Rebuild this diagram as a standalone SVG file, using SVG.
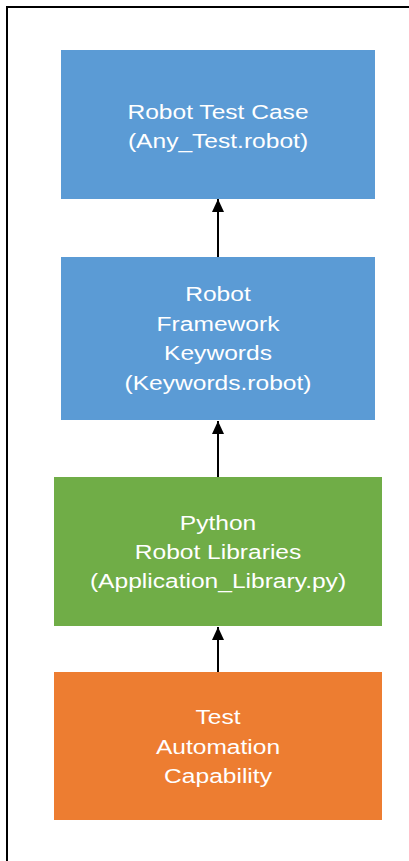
<svg xmlns="http://www.w3.org/2000/svg" width="409" height="861" viewBox="0 0 409 861">
<style>
.t{font-family:"Liberation Sans",Arial,sans-serif;font-size:21px;fill:#fff;text-anchor:middle}
.c{stroke:#000;stroke-width:2;fill:none}
</style>
<defs>
<marker id="ah" markerUnits="userSpaceOnUse" markerWidth="13" markerHeight="12" refX="13" refY="6" orient="auto" viewBox="0 0 13 12">
<path d="M0,0 L13,6 L0,12 Z" fill="#000"/>
</marker>
</defs>
<rect width="409" height="861" fill="#fff"/>
<path d="M7,861 V7 H409" fill="none" stroke="#000" stroke-width="2"/>
<g id="connectors">
<line class="c" x1="218" y1="257" x2="218" y2="199" marker-end="url(#ah)"/>
<line class="c" x1="218" y1="477" x2="218" y2="421" marker-end="url(#ah)"/>
<line class="c" x1="218" y1="672" x2="218" y2="627" marker-end="url(#ah)"/>
</g>
<g id="robot-test-case">
<rect x="61" y="50" width="314" height="149" fill="#5B9BD5"/>
<g transform="translate(218,0) scale(1.17,1)">
<text class="t" x="0" y="119">Robot Test Case</text>
<text class="t" x="0" y="148.5">(Any_Test.robot)</text>
</g>
</g>
<g id="robot-framework-keywords">
<rect x="61" y="257" width="314" height="163" fill="#5B9BD5"/>
<g transform="translate(218,0) scale(1.17,1)">
<text class="t" x="0" y="301.5">Robot</text>
<text class="t" x="0" y="331">Framework</text>
<text class="t" x="0" y="360.5">Keywords</text>
<text class="t" x="0" y="390">(Keywords.robot)</text>
</g>
</g>
<g id="python-robot-libraries">
<rect x="54" y="477" width="328" height="149" fill="#70AD47"/>
<g transform="translate(218,0) scale(1.17,1)">
<text class="t" x="0" y="530">Python</text>
<text class="t" x="0" y="559">Robot Libraries</text>
<text class="t" x="0" y="588">(Application_Library.py)</text>
</g>
</g>
<g id="test-automation-capability">
<rect x="54" y="672" width="328" height="148" fill="#ED7D31"/>
<g transform="translate(218,0) scale(1.17,1)">
<text class="t" x="0" y="724.5">Test</text>
<text class="t" x="0" y="754">Automation</text>
<text class="t" x="0" y="783.5">Capability</text>
</g>
</g>
</svg>
